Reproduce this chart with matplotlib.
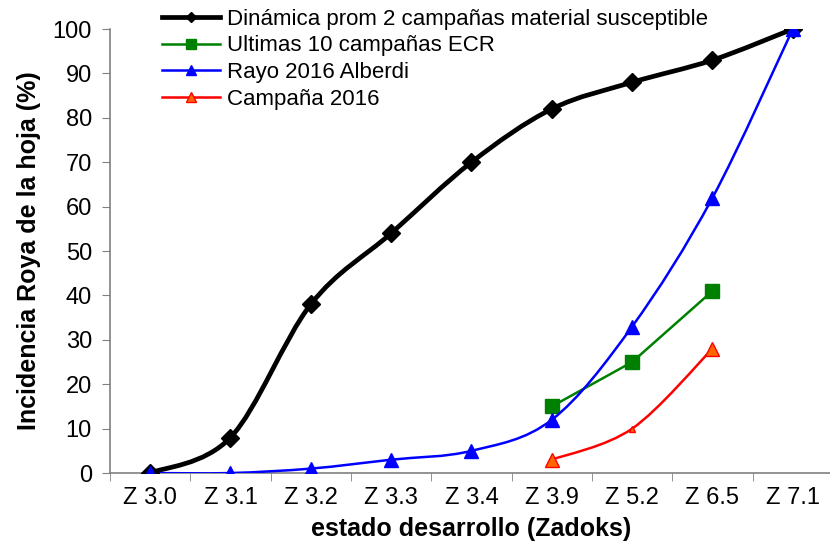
import numpy as np
import matplotlib.pyplot as plt
from matplotlib.path import Path
from matplotlib.patches import PathPatch

plt.rcParams['font.family'] = ['Liberation Sans', 'DejaVu Sans']

estados = ['Z 3.0', 'Z 3.1', 'Z 3.2', 'Z 3.3', 'Z 3.4', 'Z 3.9', 'Z 5.2', 'Z 6.5', 'Z 7.1']
dinamica = [0, 8, 38, 54, 70, 82, 88, 93, 100]
ultimas = [15, 25, 41]          # desde Z 3.9
rayo = [0, 0, 1, 3, 5, 12, 33, 62, 100]
campana = [3, 10, 28]           # desde Z 3.9


def smooth_path(x, y):
    # curva suavizada tipo excel (bezier por tramos)
    x = np.asarray(x, float)
    y = np.asarray(y, float)
    p = np.column_stack([x, y])
    pp = np.vstack([p[0], p, p[-1]])
    verts = [p[0]]
    codes = [Path.MOVETO]
    for i in range(len(p) - 1):
        c1 = pp[i + 1] + (pp[i + 2] - pp[i]) / 6.
        c2 = pp[i + 2] - (pp[i + 3] - pp[i + 1]) / 6.
        verts += [c1, c2, pp[i + 2]]
        codes += [Path.CURVE4] * 3
    return Path(verts, codes)


fig = plt.figure(figsize=(8.3, 5.55), dpi=100)
ax = fig.add_axes([0.1325, 0.1477, 0.8711, 0.8])

xi = np.arange(len(estados))
x2 = xi[5:8]

ax.add_patch(PathPatch(smooth_path(xi, dinamica), fill=False, lw=3.4, color='black', zorder=3))
ax.plot(xi, dinamica, ls='none', marker='D', ms=9, color='black', zorder=4)
h1, = ax.plot([], [], color='black', lw=3.4, marker='D', ms=5)

ax.plot(x2, ultimas, color='#008000', lw=1.8, marker='s', ms=10, zorder=3)
h2, = ax.plot([], [], color='#008000', lw=1.8, marker='s', ms=7)

ax.add_patch(PathPatch(smooth_path(xi, rayo), fill=False, lw=1.8, color='#0000FF', zorder=3))
ax.plot(xi, rayo, ls='none', marker='^', ms=10, color='#0000FF', zorder=4)
h3, = ax.plot([], [], color='#0000FF', lw=1.8, marker='^', ms=7)

ax.add_patch(PathPatch(smooth_path(x2, campana), fill=False, lw=1.8, color='#FF0000', zorder=3))
ax.plot(x2[[0, 2]], np.array(campana)[[0, 2]], ls='none', marker='^', ms=10,
        mfc='#FF6600', mec='#FF0000', zorder=4)
ax.plot(x2[1], campana[1], ls='none', marker='^', ms=4, mfc='#FF6600', mec='#FF0000', zorder=4)
h4, = ax.plot([], [], color='#FF0000', lw=1.8, marker='^', ms=7, mfc='#FF6600', mec='#FF0000')

ax.set_xlim(-0.5, 8.5)
ax.set_ylim(0, 100)
ax.set_yticks(range(0, 101, 10))
ax.set_xticks(xi)
ax.set_xticklabels(estados)
ax.set_xticks(np.arange(-0.5, 9, 1), minor=True)
ax.tick_params(axis='x', which='major', length=0, pad=10, labelsize=17)
ax.tick_params(axis='x', which='minor', length=6, direction='out', color='#808080')
ax.tick_params(axis='y', length=6, direction='out', color='#808080', labelsize=17, pad=7)
ax.spines['top'].set_visible(False)
ax.spines['right'].set_visible(False)
for s in ['left', 'bottom']:
    ax.spines[s].set_color('#808080')
    ax.spines[s].set_linewidth(1.2)

ax.set_xlabel('estado desarrollo (Zadoks)', fontsize=18, fontweight='bold', labelpad=6)
ax.set_ylabel('Incidencia Roya de la hoja (%)', fontsize=18, fontweight='bold', labelpad=8)

fig.legend([h1, h2, h3, h4],
           ['Dinámica prom 2 campañas material susceptible', 'Ultimas 10 campañas ECR',
            'Rayo 2016 Alberdi', 'Campaña 2016'],
           loc='upper left', bbox_to_anchor=(0.185, 1.0), frameon=False, fontsize=16,
           handlelength=2.6, handletextpad=0.3, labelspacing=0.25, borderaxespad=0)

fig.savefig('out.png', dpi=100)
